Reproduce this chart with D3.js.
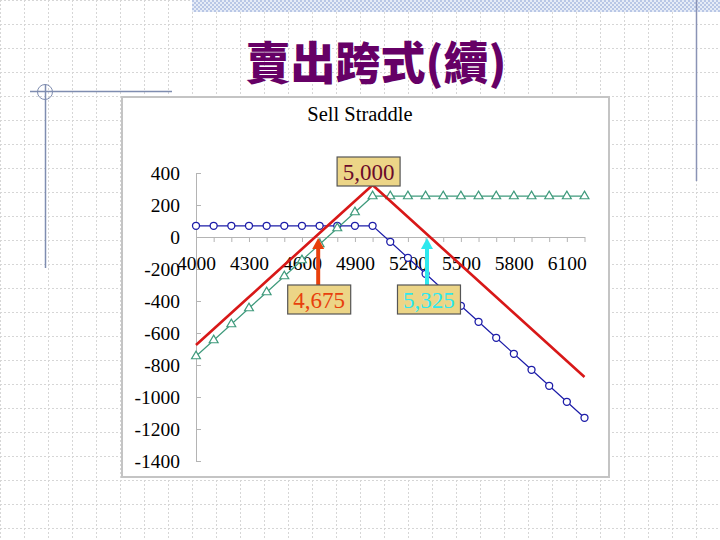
<!DOCTYPE html>
<html>
<head>
<meta charset="utf-8">
<script src="https://cdn.jsdelivr.net/npm/d3@7"></script>
<style>
  html, body { margin: 0; padding: 0; background: #ffffff; }
  svg { display: block; }
</style>
</head>
<body>
<svg id="chart" width="720" height="540"></svg>
<script>
// ---------- DATA ----------
const strikes = [4000,4100,4200,4300,4400,4500,4600,4700,4800,4900,5000,5100,5200,5300,5400,5500,5600,5700,5800,5900,6000,6100,6200];
// sold call (blue circles)
const callPL = [70,70,70,70,70,70,70,70,70,70,70,-30,-130,-230,-330,-430,-530,-630,-730,-830,-930,-1030,-1130];
// sold put (green triangles)
const putPL = [-745,-645,-545,-445,-345,-245,-145,-45,55,155,255,255,255,255,255,255,255,255,255,255,255,255,255];
// combined sell straddle (red line)
const straddlePL = [-675,-575,-475,-375,-275,-175,-75,25,125,225,325,225,125,25,-75,-175,-275,-375,-475,-575,-675,-775,-875];
const xTickLabels = ["4000","4300","4600","4900","5200","5500","5800","6100"];
const yTicks = [400,200,0,-200,-400,-600,-800,-1000,-1200,-1400];
const annotations = [
  {label: "5,000", value: 5000, type: "peak"},
  {label: "4,675", value: 4675, type: "breakeven", color: "#e8400c"},
  {label: "5,325", value: 5325, type: "breakeven", color: "#2ee8ee"}
];
const pageTitle = "賣出跨式(續)";
const chartTitle = "Sell Straddle";

// ---------- DRAW ----------
const svg = d3.select("#chart");
const W = 720, H = 540;

// background dotted grid
const grid = svg.append("g");
for (let x = 0.5; x < W; x += 24) {
  grid.append("line").attr("x1", x).attr("x2", x).attr("y1", 0).attr("y2", H)
    .attr("stroke", "#d6d6d6").attr("stroke-width", 1).attr("stroke-dasharray", "2,2");
}
for (let y = 0.5; y < H; y += 24) {
  grid.append("line").attr("y1", y).attr("y2", y).attr("x1", 0).attr("x2", W)
    .attr("stroke", "#d6d6d6").attr("stroke-width", 1).attr("stroke-dasharray", "2,2");
}

// top hatched band
const defs = svg.append("defs");
const pat = defs.append("pattern").attr("id", "checker").attr("width", 4).attr("height", 4)
  .attr("patternUnits", "userSpaceOnUse");
pat.append("rect").attr("width", 4).attr("height", 4).attr("fill", "#e6ecf7");
pat.append("rect").attr("width", 2).attr("height", 2).attr("fill", "#b9c7e6");
pat.append("rect").attr("x", 2).attr("y", 2).attr("width", 2).attr("height", 2).attr("fill", "#b9c7e6");
svg.append("rect").attr("x", 192).attr("y", 0).attr("width", W - 192).attr("height", 12)
  .attr("fill", "url(#checker)");

// right vertical decoration line
svg.append("line").attr("x1", 696.5).attr("x2", 696.5).attr("y1", 0).attr("y2", 181)
  .attr("stroke", "#8a93b5").attr("stroke-width", 1.5);

// left decoration
const deco = "#7f8db0";
svg.append("line").attr("x1", 30).attr("x2", 172).attr("y1", 91.5).attr("y2", 91.5)
  .attr("stroke", deco).attr("stroke-width", 1.5);
svg.append("line").attr("x1", 45.5).attr("x2", 45.5).attr("y1", 84).attr("y2", 268)
  .attr("stroke", deco).attr("stroke-width", 1.5);
svg.append("circle").attr("cx", 45).attr("cy", 92).attr("r", 7.5)
  .attr("fill", "none").attr("stroke", deco).attr("stroke-width", 1);

// page title
svg.append("text").attr("x", 376).attr("y", 80).attr("text-anchor", "middle")
  .attr("font-family", "'Noto Sans CJK TC', 'Noto Sans CJK SC', sans-serif")
  .attr("font-weight", 900).attr("font-size", 45).attr("fill", "#660066")
  .text(pageTitle);

// chart frame
svg.append("rect").attr("x", 122).attr("y", 97).attr("width", 487).attr("height", 380)
  .attr("fill", "#ffffff").attr("stroke", "#c4c4c4").attr("stroke-width", 2);

// chart title
svg.append("text").attr("x", 360).attr("y", 121).attr("text-anchor", "middle")
  .attr("font-family", "'Liberation Serif', 'Times New Roman', serif")
  .attr("font-size", 20.5).attr("fill", "#000").text(chartTitle);

// scales
const x = d3.scalePoint().domain(strikes).range([196, 584.5]);
const xLin = d3.scaleLinear().domain([strikes[0], strikes[strikes.length - 1]]).range([196, 584.5]);
const y = d3.scaleLinear().domain([-1400, 400]).range([461, 173]);

const fontSerif = "'Liberation Serif', 'Times New Roman', serif";
const axisColor = "#b4b4b4";

// y axis
const yAxis = svg.append("g").attr("transform", "translate(196,0)")
  .call(d3.axisLeft(y).tickValues(yTicks).tickSize(-5).tickPadding(16).tickFormat(d => String(d)));
yAxis.select(".domain").attr("stroke", axisColor);
yAxis.selectAll(".tick line").attr("stroke", axisColor);
yAxis.selectAll(".tick text").attr("font-family", fontSerif).attr("font-size", 19.5).attr("fill", "#000");

// x axis at y=0
const xAxis = svg.append("g").attr("transform", `translate(0,${y(0)})`)
  .call(d3.axisBottom(x).tickSize(5).tickSizeOuter(0)
    .tickFormat(d => xTickLabels.includes(String(d)) ? String(d) : ""));
xAxis.select(".domain").attr("stroke", axisColor);
xAxis.selectAll(".tick line").attr("stroke", axisColor);
xAxis.selectAll(".tick text").attr("font-family", fontSerif).attr("font-size", 19.5)
  .attr("fill", "#000").attr("y", 33).attr("dy", 0);

// series
const line = d3.line().x((d, i) => x(strikes[i])).y(d => y(d));

// blue (call)
svg.append("path").datum(callPL).attr("d", line).attr("fill", "none")
  .attr("stroke", "#1c1ca8").attr("stroke-width", 1.2);
svg.append("g").selectAll("circle").data(callPL).join("circle")
  .attr("cx", (d, i) => x(strikes[i])).attr("cy", d => y(d)).attr("r", 3.5)
  .attr("fill", "#fff").attr("stroke", "#1c1ca8").attr("stroke-width", 1.3);

// green (put)
svg.append("path").datum(putPL).attr("d", line).attr("fill", "none")
  .attr("stroke", "#3f9a7c").attr("stroke-width", 1.2);
const tri = d3.symbol().type(d3.symbolTriangle).size(34);
svg.append("g").selectAll("path").data(putPL).join("path")
  .attr("transform", (d, i) => `translate(${x(strikes[i])},${y(d)})`)
  .attr("d", tri).attr("fill", "#fff").attr("stroke", "#3f9a7c").attr("stroke-width", 1.2);

// red (straddle)
svg.append("path").datum(straddlePL).attr("d", line).attr("fill", "none")
  .attr("stroke", "#d81818").attr("stroke-width", 2.6).attr("stroke-linejoin", "miter");

// annotations
const boxW = 63, boxH = 29;
annotations.forEach(a => {
  const cx = xLin(a.value);
  let bx, by, textColor;
  if (a.type === "peak") {
    bx = cx - boxW / 2 - 4; by = 157; textColor = "#6a0a2a";
  } else {
    bx = cx - boxW / 2 + (a.value < 5000 ? 4 : -1); by = 285; textColor = a.color;
    // arrow
    const ax = cx + (a.value < 5000 ? 3 : -3);
    svg.append("line").attr("x1", ax).attr("x2", ax).attr("y1", by).attr("y2", y(0) + 10)
      .attr("stroke", a.color).attr("stroke-width", 4);
    svg.append("path")
      .attr("d", `M${ax - 6},${y(0) + 12} L${ax + 6},${y(0) + 12} L${ax},${y(0) + 1} Z`)
      .attr("fill", a.color);
  }
  svg.append("rect").attr("x", bx).attr("y", by).attr("width", boxW).attr("height", boxH)
    .attr("fill", "#ecd587").attr("stroke", "#555").attr("stroke-width", 1.2);
  svg.append("text").attr("x", bx + boxW / 2).attr("y", by + 22.5).attr("text-anchor", "middle")
    .attr("font-family", fontSerif).attr("font-size", 23).attr("fill", textColor).text(a.label);
});
</script>
</body>
</html>
